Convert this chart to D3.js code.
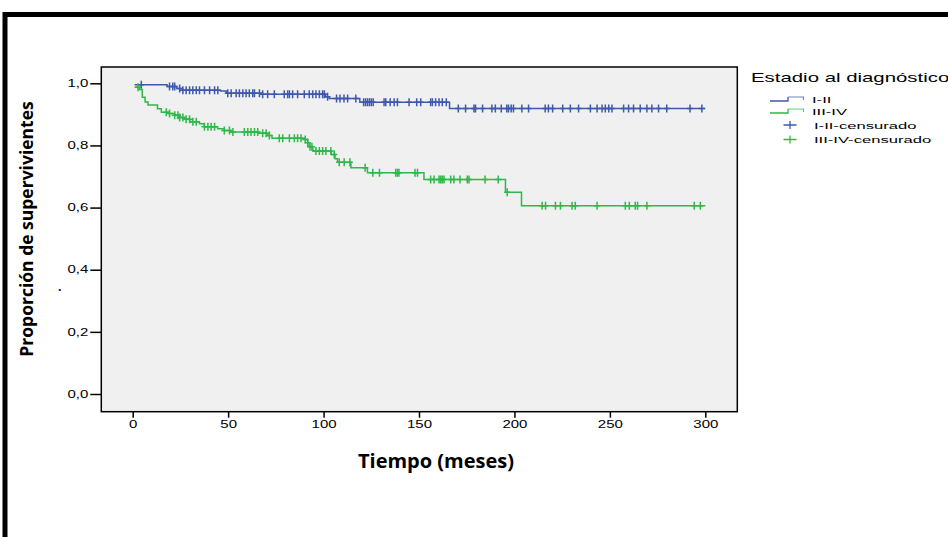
<!DOCTYPE html>
<html>
<head>
<meta charset="utf-8">
<script src="https://cdn.jsdelivr.net/npm/d3@7"></script>
<style>
  html, body { margin: 0; padding: 0; background: #fff; }
  svg { display: block; }
</style>
</head>
<body>
<svg id="chart" width="948" height="537"></svg>
<script>
// ---------------- DATA ----------------
const groups = ["I-II", "III-IV"];
const censorLabels = ["I-II-censurado", "III-IV-censurado"];
const legendTitle = "Estadio al diagnóstico";
const xTitle = "Tiempo (meses)";
const yTitle = "Proporción de supervivientes";

const xTicks = [0, 50, 100, 150, 200, 250, 300];
const yTicks = [0, 0.2, 0.4, 0.6, 0.8, 1.0];

// I-II : step times (months) and survival proportions
const blueTimes = [1, 18, 23, 26, 46, 49, 68, 101, 103, 119, 166];
const blueSurv  = [0.995, 0.99, 0.983, 0.978, 0.975, 0.968, 0.965, 0.957, 0.951, 0.939, 0.919];
const blueEnd = 300;
const blueCensor = [4.5, 19.3, 21, 22, 24.6, 26.3, 28, 29.8, 31.5, 33.3, 35, 37.6, 40.3, 42.9, 44.6,
  49.8, 51.6, 54.2, 55.9, 57.7, 59.4, 61.1, 62.9, 63.8, 66.4, 68.1, 70.7, 74.2, 79.4, 81.2, 82.1,
  83.8, 86.4, 89.9, 92.5, 94.3, 96, 97.8, 99.5, 100.4, 102.1, 106.8, 108.6, 110.7, 112.6, 116.9,
  121, 122, 123, 124, 125, 126, 131.7, 132.6, 134.9, 137, 138.7, 144.8, 148.8, 150.9, 156.1, 157,
  158.7, 160.5, 162.2, 164.3, 170.6, 174.4, 178.8, 179.6, 183.3, 188.2, 190, 193.1, 196, 196.9,
  198.3, 199.5, 203.9, 207.4, 216.1, 217.8, 220, 225.3, 229.3, 233.6, 239.8, 243.3, 245.9, 247.6,
  249.4, 251.1, 257.2, 259.8, 262.4, 265.9, 269.4, 272, 275.5, 279.8, 292, 298.2];

// III-IV : step times and survival proportions
const greenTimes = [1, 3.5, 5, 6.5, 8, 13, 15, 19, 22, 24.5, 27, 30, 35, 37.5, 44.5, 48, 51.5,
  66, 70.5, 73, 90, 91.7, 92.5, 94.3, 104, 106, 107.3, 114.3, 123, 152.6, 195.3, 203.7];
const greenSurv  = [0.987, 0.98, 0.955, 0.94, 0.93, 0.918, 0.907, 0.903, 0.897, 0.89, 0.884,
  0.876, 0.87, 0.86, 0.854, 0.848, 0.843, 0.839, 0.832, 0.823, 0.819, 0.809, 0.796, 0.782, 0.771,
  0.757, 0.746, 0.728, 0.712, 0.69, 0.649, 0.606];
const greenEnd = 300;
const greenCensor = [2.8, 17.6, 19.3, 22, 23.7, 24.6, 26.3, 28, 29.8, 31.5, 33.3, 37.6, 39.4, 41.1,
  42.9, 48, 50.7, 52.5, 58.5, 60.3, 62, 63.8, 65.5, 68.1, 69.9, 71.6, 76.8, 78.6, 82.1, 84.7, 86.4,
  88.2, 90.4, 91.7, 92.9, 93.9, 96, 97.8, 99.5, 101.2, 103.8, 105.6, 108.2, 110.8, 113.8, 121.8,
  125.8, 129.3, 137.8, 138.7, 139.5, 147.9, 149.2, 156.1, 157.9, 160.5, 161.4, 162.2, 163.1, 166.6,
  168.3, 171.5, 175.3, 176.2, 184.6, 191.5, 196.2, 214.5, 216.3, 221.5, 224.1, 230.2, 231.9, 243.3,
  258.1, 260.2, 263.3, 264.5, 269.4, 294.2, 297.4];

// ---------------- STYLE / LAYOUT ----------------
const BLUE = "#3E58AC", GREEN = "#2EB848", BG = "#F0F0F0";
const plot = { left: 101.3, right: 737.3, top: 67, bottom: 411.7 };

const svg = d3.select("#chart");

// outer frame
svg.append("path")
  .attr("d", "M5,537 V14.5 H948")
  .attr("fill", "none").attr("stroke", "#000").attr("stroke-width", 5);

const x = d3.scaleLinear().domain([0, 300]).range([132.7, 705.3]);
const y = d3.scaleLinear().domain([0, 1]).range([394, 83.3]);

svg.append("rect")
  .attr("x", plot.left).attr("y", plot.top)
  .attr("width", plot.right - plot.left).attr("height", plot.bottom - plot.top)
  .attr("fill", BG);

// axes
const fmt = d => d.toFixed(1).replace(".", ",");
const yAxis = svg.append("g").attr("transform", `translate(${plot.left},0)`)
  .call(d3.axisLeft(y).tickValues(yTicks).tickFormat(fmt).tickSize(11).tickPadding(2));
const xAxis = svg.append("g").attr("transform", `translate(0,${plot.bottom})`)
  .call(d3.axisBottom(x).tickValues(xTicks).tickFormat(d3.format("d")).tickSize(6).tickPadding(3.5));

[yAxis, xAxis].forEach(g => {
  g.select(".domain").remove();
  g.selectAll(".tick line").attr("stroke", "#000").attr("stroke-width", 1.5);
  g.selectAll(".tick text")
    .attr("font-family", "'Liberation Sans', Arial, sans-serif")
    .attr("font-size", 10).attr("fill", "#000")
    .each(function () {
      const t = d3.select(this);
      const tx = +t.attr("x") || 0;
      t.attr("x", 0).attr("transform", `translate(${tx},0) scale(1.5,1)`);
    });
});

// step curves
const stepLine = d3.line().x(d => x(d[0])).y(d => y(d[1])).curve(d3.curveStepAfter);
function pts(times, surv, end) {
  const p = times.map((t, i) => [t, surv[i]]);
  p.push([end, surv[surv.length - 1]]);
  return p;
}
function survAt(times, surv, t) {
  let s = surv[0];
  for (let i = 0; i < times.length; i++) if (times[i] <= t) s = surv[i];
  return s;
}

const series = [
  { times: blueTimes, surv: blueSurv, end: blueEnd, censor: blueCensor, color: BLUE },
  { times: greenTimes, surv: greenSurv, end: greenEnd, censor: greenCensor, color: GREEN }
];

series.forEach(s => {
  svg.append("path")
    .attr("d", stepLine(pts(s.times, s.surv, s.end)))
    .attr("fill", "none").attr("stroke", s.color).attr("stroke-width", 1.5);
});

// censor marks
series.forEach(s => {
  svg.append("g").selectAll("path").data(s.censor).join("path")
    .attr("d", t => {
      const cx = x(t), cy = y(survAt(s.times, s.surv, t));
      return `M${cx - 3},${cy} H${cx + 3} M${cx},${cy - 4} V${cy + 4}`;
    })
    .attr("stroke", s.color).attr("stroke-width", 1.5).attr("fill", "none");
});

// plot border
svg.append("rect")
  .attr("x", plot.left).attr("y", plot.top)
  .attr("width", plot.right - plot.left).attr("height", plot.bottom - plot.top)
  .attr("fill", "none").attr("stroke", "#000").attr("stroke-width", 1.5);

// axis titles
svg.append("text")
  .attr("x", 436).attr("y", 468)
  .attr("text-anchor", "middle")
  .attr("font-family", "'Open Sans', sans-serif").attr("font-weight", "bold")
  .attr("font-size", 20).attr("fill", "#000")
  .text(xTitle);

svg.append("text")
  .attr("transform", "translate(33,229) rotate(-90)")
  .attr("text-anchor", "middle")
  .attr("font-family", "'Open Sans', sans-serif").attr("font-weight", "bold")
  .attr("font-size", 17.5).attr("fill", "#000")
  .text(yTitle);

svg.append("text")
  .attr("x", 58).attr("y", 291)
  .attr("font-family", "'Open Sans', sans-serif").attr("font-weight", "bold")
  .attr("font-size", 12).attr("fill", "#000")
  .text(".");

// legend
const lg = svg.append("g");
lg.append("text")
  .attr("transform", "translate(751,82) scale(1.7,1)")
  .attr("font-family", "'Liberation Sans', Arial, sans-serif")
  .attr("font-size", 12).attr("fill", "#000")
  .text(legendTitle);

const legRows = [102.5, 114.5, 128.5, 143];
groups.forEach((g, i) => {
  const c = i === 0 ? BLUE : GREEN;
  const yb = legRows[i] - 1.5;
  lg.append("path")
    .attr("d", `M770,${yb} H788 V${yb - 4}`)
    .attr("fill", "none").attr("stroke", c).attr("stroke-width", 1.3);
  lg.append("path")
    .attr("d", `M788,${yb - 4} H803.5 V${yb - 1}`)
    .attr("fill", "none").attr("stroke", c).attr("stroke-width", 1.1).attr("opacity", 0.75);
  lg.append("text")
    .attr("transform", `translate(812,${legRows[i]}) scale(1.75,1)`)
    .attr("font-family", "'Liberation Sans', Arial, sans-serif")
    .attr("font-size", 9.5).attr("fill", "#000")
    .text(g);
});
censorLabels.forEach((g, i) => {
  const c = i === 0 ? BLUE : GREEN;
  const yr = legRows[i + 2];
  const cy = yr - 3.5;
  lg.append("path")
    .attr("d", `M783.5,${cy} H796.5 M790,${cy - 4} V${cy + 4}`)
    .attr("fill", "none").attr("stroke", c).attr("stroke-width", 1.3);
  lg.append("text")
    .attr("transform", `translate(814,${yr}) scale(1.75,1)`)
    .attr("font-family", "'Liberation Sans', Arial, sans-serif")
    .attr("font-size", 9.5).attr("fill", "#000")
    .text(g);
});
</script>
</body>
</html>
